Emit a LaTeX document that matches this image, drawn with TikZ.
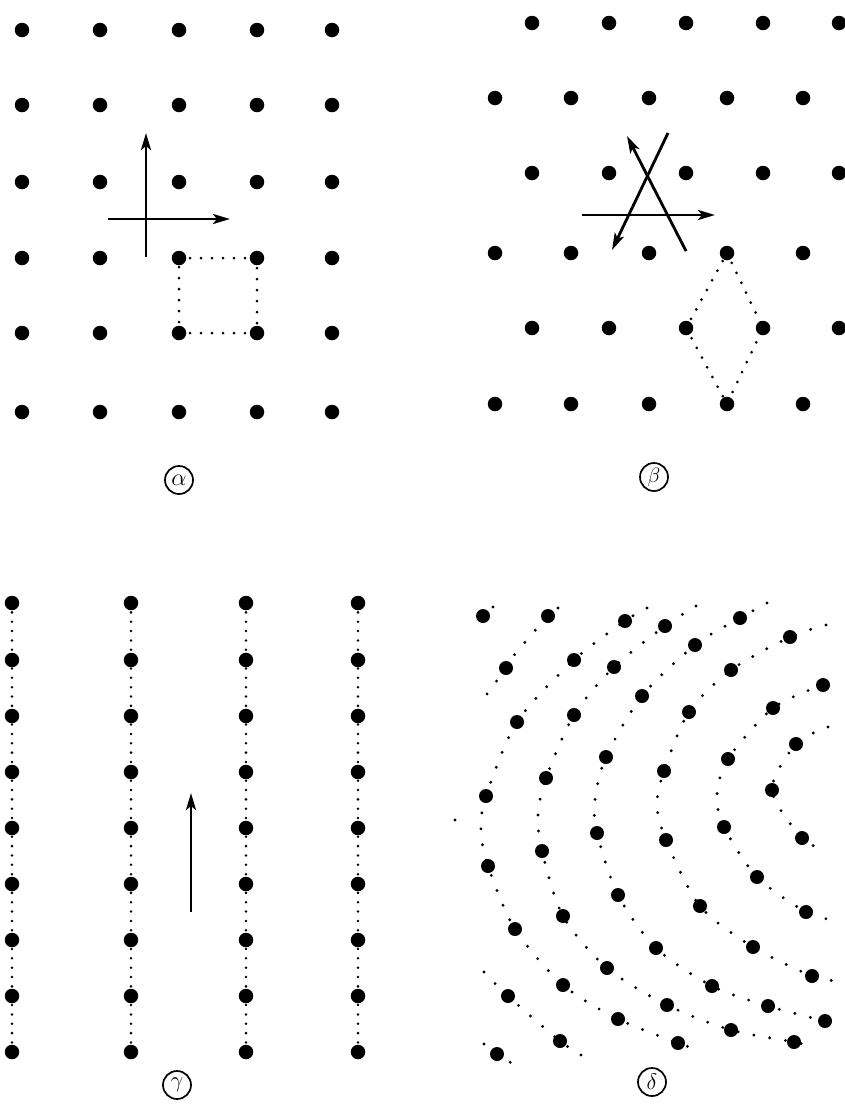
\documentclass[tikz,border=0pt]{standalone}
\usetikzlibrary{arrows.meta}
\begin{document}
\begin{tikzpicture}[x=1pt,y=-1pt,
  atom/.style={circle,fill=black,inner sep=0pt,minimum size=14.5pt},
  bond/.style={line width=3pt,line cap=round,dash pattern=on 0pt off 11pt},
  arcdots/.style={line width=3.2pt,line cap=round,dash pattern=on 0pt off 16pt},
  speck/.style={circle,fill=black,inner sep=0pt,minimum size=3.2pt},
  vec/.style={line width=2.8pt,-{Stealth[length=17pt,width=10pt,inset=4pt]}},
  tag/.style={circle,draw,line width=1.7pt,minimum size=28pt,inner sep=0pt,font=\LARGE}
]
\useasboundingbox (0,0) rectangle (845,1112);
\fill[white] (0,0) rectangle (845,1112);

% ---------------- panel alpha ----------------
\foreach \y [count=\r] in {30,105,182,258,333,412}
  \foreach \x [count=\c] in {22,100,179,257,332}
    \node[atom] (a\r\c) at (\x,\y) {};
\draw[bond] (a43.center) -- (a44.center) -- (a54.center) -- (a53.center) -- cycle;
\coordinate (av0) at (146,257); \coordinate (av1) at (146,133);
\coordinate (ah0) at (108,219); \coordinate (ah1) at (230,219);
\draw[vec] (av0) -- (av1);
\draw[vec] (ah0) -- (ah1);
\node[tag] (la) at (179,480) {\scalebox{1.4}{$\alpha$}};

% ---------------- panel beta ----------------
\foreach \y [count=\r] in {23,173,328}
  \foreach \x [count=\c] in {532,609,686,763,839}
    \pgfmathtruncatemacro{\rr}{2*\r-1}
    \node[atom] (b\rr\c) at (\x,\y) {};
\foreach \y [count=\r] in {98,253,404}
  \foreach \x [count=\c] in {495,571,649,727,803}
    \pgfmathtruncatemacro{\rr}{2*\r}
    \node[atom] (b\rr\c) at (\x,\y) {};
\draw[bond] (b44.center) -- (b54.center) -- (b64.center) -- (b53.center) -- cycle;
\coordinate (bh0) at (582,215); \coordinate (bh1) at (715,215);
\coordinate (bA0) at (686,251); \coordinate (bA1) at (627,136);
\coordinate (bB0) at (668,133); \coordinate (bB1) at (612,250);
\draw[vec] (bh0) -- (bh1);
\draw[vec] (bA0) -- (bA1);
\draw[vec] (bB0) -- (bB1);
\node[tag] (lb) at (654,477) {\scalebox{1.2}{$\beta$}};

% ---------------- panel gamma ----------------
\foreach \x [count=\c] in {12,131,246,358}{
  \draw[bond,line width=2.8pt,dash pattern=on 0pt off 9.35pt] (\x,603) -- (\x,1052);
  \foreach \y [count=\r] in {603,660,716,772,828,884,940,996,1052}
    \node[atom] (g\r\c) at (\x,\y) {};
}
\coordinate (gv0) at (191,912); \coordinate (gv1) at (191,793);
\draw[vec] (gv0) -- (gv1);
\node[tag] (lg) at (177,1085) {\scalebox{1.3}{$\gamma$}};

% ---------------- panel delta ----------------
\draw[arcdots] plot[smooth] coordinates {(493,607) (483,616) (473,625)};
\draw[arcdots] plot[smooth] coordinates {(484,1044) (497,1054) (513,1064)};
\draw[arcdots] plot[smooth] coordinates {(558,608) (548,616) (515,654) (506,668) (479,705)};
\draw[arcdots] plot[smooth] coordinates {(484,972) (508,996) (560,1041) (588,1059)};
\draw[arcdots] plot[smooth] coordinates {(647,608) (625,621) (574,660) (517,722) (486,796) (481,830) (488,866) (515,929) (563,985) (618,1019) (678,1043) (693,1048)};
\draw[arcdots] plot[smooth] coordinates {(696,606) (665,626) (614,667) (574,715) (546,778) (538,815) (542,851) (563,916) (607,968) (667,1005) (731,1030) (794,1042) (812,1047)};
\draw[arcdots] plot[smooth] coordinates {(767,603) (740,618) (695,645) (642,696) (606,757) (595,800) (597,833) (618,895) (656,948) (712,986) (768,1006) (825,1021)};
\draw[arcdots] plot[smooth] coordinates {(826,625) (790,637) (731,670) (689,712) (664,771) (657,805) (666,840) (700,906) (753,947) (812,976) (837,981)};
\draw[arcdots] plot[smooth] coordinates {(823,685) (773,708) (728,759) (717,795) (724,827) (757,877) (806,912) (833,920)};
\draw[arcdots] plot[smooth] coordinates {(828,727) (796,744) (772,790) (802,838) (828,851)};
\node[speck] (dsp) at (455,820) {};
\foreach \p [count=\i] in {
  {483,616},{497,1054},
  {548,616},{506,668},{508,996},{560,1041},
  {625,621},{574,660},{517,722},{486,796},{488,866},{515,929},{563,985},{618,1019},{678,1043},
  {665,626},{614,667},{574,715},{546,778},{542,851},{563,916},{607,968},{667,1005},{731,1030},{794,1042},
  {740,618},{695,645},{642,696},{606,757},{597,833},{618,895},{656,948},{712,986},{768,1006},{825,1021},
  {790,637},{731,670},{689,712},{664,771},{666,840},{700,906},{753,947},{812,976},
  {823,685},{773,708},{728,759},{724,827},{757,877},{806,912},
  {796,744},{772,790},{802,838}}
  \node[atom,minimum size=14pt] (d\i) at (\p) {};
\node[tag] (ld) at (652,1082) {\scalebox{1.3}{$\delta$}};
\end{tikzpicture}
\end{document}
